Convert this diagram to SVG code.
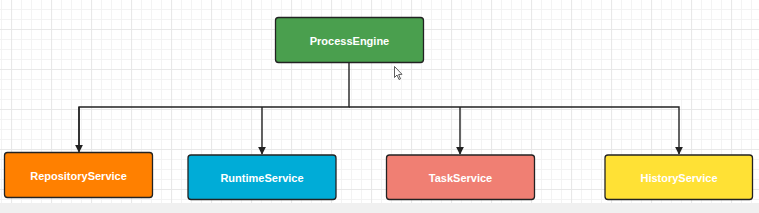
<svg xmlns="http://www.w3.org/2000/svg" width="759" height="213" viewBox="0 0 759 213">
  <defs>
    <pattern id="minor" x="1" y="9" width="10" height="10" patternUnits="userSpaceOnUse">
      <path d="M0 0.5H10M0.5 0V10" fill="none" stroke="#f3f3f3" stroke-width="1"/>
    </pattern>
    <pattern id="major" x="11" y="29" width="40" height="40" patternUnits="userSpaceOnUse">
      <path d="M0 0.5H40M0.5 0V40" fill="none" stroke="#e8e8e8" stroke-width="1.2"/>
    </pattern>
    <marker id="arrow" viewBox="0 0 10 10" refX="9" refY="5" markerWidth="8" markerHeight="8" markerUnits="userSpaceOnUse" orient="auto">
      <path d="M0 0L10 5L0 10Z" fill="#222"/>
    </marker>
    <style>
      .box { stroke: #222; stroke-width: 1.3; }
      .label { font-family: "Liberation Sans", Arial, sans-serif; font-size: 11px; font-weight: bold; fill: #ffffff; text-anchor: middle; dominant-baseline: central; }
      .conn { fill: none; stroke: #222; stroke-width: 1.4; }
    </style>
  </defs>
  <rect width="759" height="213" fill="#ffffff"/>
  <rect width="759" height="203" fill="url(#minor)"/>
  <rect width="759" height="203" fill="url(#major)"/>
  <rect y="203" width="759" height="10" fill="#f0f0f0"/>

  <g id="connectors">
    <path class="conn" d="M349 62V107H79V151"/>
    <path class="conn" d="M262 107V154" marker-end="url(#arrow)"/>
    <path class="conn" d="M79 107V152" marker-end="url(#arrow)"/>
    <path class="conn" d="M349 107H679V154" marker-end="url(#arrow)"/>
    <path class="conn" d="M460 107V154" marker-end="url(#arrow)"/>
  </g>

  <g id="ProcessEngine">
    <rect class="box" x="275.5" y="17.5" width="148" height="45" rx="3" fill="#4a9f4e"/>
    <text class="label" x="349.5" y="41">ProcessEngine</text>
  </g>
  <g id="RepositoryService">
    <rect class="box" x="4.5" y="152.5" width="148" height="45" rx="3" fill="#ff8000"/>
    <text class="label" x="78.5" y="175.5">RepositoryService</text>
  </g>
  <g id="RuntimeService">
    <rect class="box" x="188" y="155" width="148" height="44.5" rx="3" fill="#00acd7"/>
    <text class="label" x="262" y="177.5">RuntimeService</text>
  </g>
  <g id="TaskService">
    <rect class="box" x="386.5" y="155" width="148" height="44.5" rx="3" fill="#f07f73"/>
    <text class="label" x="460.5" y="177.5">TaskService</text>
  </g>
  <g id="HistoryService">
    <rect class="box" x="605" y="155" width="147.5" height="44.5" rx="3" fill="#ffe135"/>
    <text class="label" x="679" y="177.5">HistoryService</text>
  </g>

  <path d="M394.5 66.5V77.5L397 75L399 79.5L400.5 78.8L398.6 74.5L402 74.3Z" fill="#fff" stroke="#333" stroke-width="0.8"/>
</svg>
